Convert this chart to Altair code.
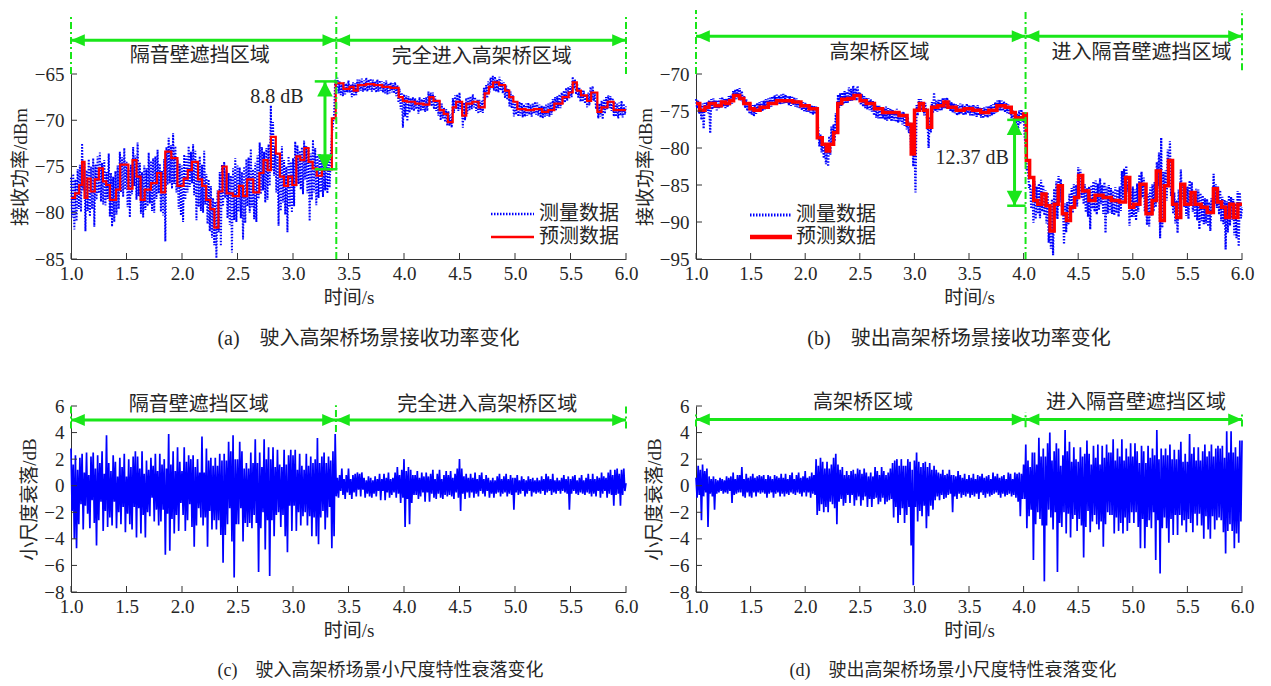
import altair as alt
import numpy as np
import pandas as pd

T0, T1 = 1.0, 6.0

X_TICKS = [1.0, 1.5, 2.0, 2.5, 3.0, 3.5, 4.0, 4.5, 5.0, 5.5, 6.0]
Y_TICKS_A = [-85, -80, -75, -70, -65]
Y_TICKS_B = [-95, -90, -85, -80, -75, -70]
Y_TICKS_CD = [-8, -6, -4, -2, 0, 2, 4, 6]

# (a) measured received power, dBm, sampled every 0.01 s from 1.0 s to 6.0 s
MEAS_A = [
    -76.2, -80.5, -75.8, -81.8, -76.4, -80.9, -75.3, -79.6, -74.8, -79.9,
    -72.5, -77.6, -74.6, -82.0, -75.4, -79.8, -74.2, -80.4, -75.0, -79.6,
    -74.1, -81.5, -74.8, -78.6, -73.9, -77.9, -73.5, -78.8, -74.6, -79.1,
    -74.3, -79.2, -75.6, -78.5, -73.6, -80.4, -75.7, -81.5, -76.1, -81.0,
    -75.5, -80.2, -74.9, -79.6, -73.4, -77.8, -74.0, -78.3, -73.0, -77.5,
    -74.5, -79.4, -75.3, -80.5, -74.8, -78.0, -72.9, -77.1, -73.8, -78.6,
    -72.4, -78.2, -74.6, -80.1, -75.6, -80.5, -74.9, -79.7, -75.2, -79.3,
    -73.5, -79.0, -74.4, -79.8, -74.1, -80.0, -73.9, -78.5, -73.2, -77.9,
    -74.7, -79.9, -75.5, -80.3, -74.2, -83.1, -72.9, -77.0, -71.9, -76.8,
    -72.7, -77.4, -71.4, -76.9, -72.8, -77.8, -74.3, -79.6, -74.7, -80.3,
    -74.9, -81.0, -73.7, -78.6, -73.9, -77.8, -72.8, -77.2, -73.4, -76.8,
    -72.6, -78.1, -73.3, -80.8, -74.5, -79.4, -73.9, -79.8, -74.8, -80.0,
    -73.3, -79.1, -75.8, -81.2, -76.4, -82.0, -77.1, -82.7, -78.4, -83.5,
    -78.8, -84.9, -77.6, -82.1, -75.6, -83.6, -74.8, -79.3, -74.5, -78.4,
    -75.4, -80.6, -75.7, -81.3, -76.0, -84.3, -75.2, -80.8, -74.1, -81.0,
    -74.9, -79.9, -75.1, -80.6, -75.6, -82.9, -75.0, -81.1, -74.2, -79.3,
    -74.0, -80.0, -73.1, -79.4, -75.3, -80.7, -74.6, -81.0, -73.8, -78.5,
    -72.4, -78.0, -72.9, -77.6, -73.4, -78.9, -73.0, -78.6, -72.6, -77.1,
    -68.4, -75.4, -70.2, -76.0, -72.8, -77.8, -73.5, -81.4, -74.0, -79.8,
    -72.8, -78.9, -74.3, -80.2, -75.0, -82.1, -73.9, -79.4, -74.5, -80.0,
    -74.1, -79.3, -72.3, -77.2, -72.7, -76.9, -73.3, -77.5, -72.9, -78.0,
    -72.2, -76.4, -72.8, -77.9, -73.0, -80.9, -73.6, -78.6, -72.1, -77.8,
    -73.0, -79.2, -73.8, -78.4, -73.6, -77.8, -74.2, -78.3, -73.9, -77.6,
    -73.8, -77.9, -74.2, -77.3, -73.7, -71.6, -70.4, -69.3, -65.6, -66.5,
    -65.4, -67.1, -65.8, -67.3, -66.0, -67.4, -65.9, -67.2, -66.0, -67.0,
    -65.7, -67.0, -66.1, -67.5, -65.9, -67.4, -66.0, -67.3, -65.6, -66.9,
    -65.6, -66.8, -65.5, -66.9, -65.7, -66.8, -65.4, -66.9, -65.6, -66.7,
    -65.5, -66.9, -65.6, -66.8, -65.8, -67.0, -65.6, -66.9, -65.7, -66.8,
    -65.8, -67.0, -65.9, -67.1, -65.7, -67.2, -66.0, -67.1, -65.9, -67.0,
    -66.0, -67.1, -65.9, -67.4, -66.2, -68.1, -66.6, -68.8, -67.0, -70.8,
    -67.2, -69.6, -67.3, -70.1, -67.4, -69.2, -67.6, -68.9, -67.5, -69.0,
    -67.6, -68.8, -67.8, -69.3, -67.5, -69.0, -67.7, -68.9, -67.6, -69.1,
    -67.5, -69.0, -66.9, -68.4, -67.0, -68.5, -67.0, -68.8, -67.4, -69.0,
    -67.8, -69.5, -67.9, -70.0, -68.2, -69.8, -68.6, -70.2, -68.8, -70.6,
    -69.0, -70.6, -69.4, -70.8, -67.6, -69.2, -67.3, -68.8, -67.2, -69.0,
    -67.0, -68.8, -68.0, -70.8, -68.1, -70.0, -67.6, -69.3, -67.5, -68.9,
    -67.4, -68.8, -67.2, -68.6, -67.5, -69.0, -67.8, -69.3, -67.8, -69.1,
    -67.9, -69.2, -66.5, -67.8, -66.2, -67.6, -65.8, -67.0, -65.4, -66.6,
    -65.2, -66.8, -65.3, -66.9, -65.6, -67.0, -65.3, -66.8, -65.7, -67.1,
    -65.9, -67.6, -66.2, -67.8, -66.6, -68.5, -66.9, -68.7, -67.3, -69.6,
    -68.0, -69.4, -68.2, -69.6, -68.0, -69.5, -68.1, -69.7, -68.3, -69.6,
    -68.2, -69.5, -68.1, -69.4, -68.3, -69.6, -68.2, -69.3, -68.0, -69.4,
    -68.1, -69.5, -68.3, -69.7, -68.4, -69.8, -68.5, -69.6, -68.3, -69.5,
    -68.2, -69.6, -68.1, -69.4, -67.7, -69.0, -67.5, -68.9, -67.4, -68.7,
    -67.2, -68.7, -67.0, -68.2, -66.8, -68.1, -66.5, -67.9, -66.4, -67.6,
    -66.3, -67.5, -65.3, -66.6, -65.6, -67.2, -66.0, -67.6, -66.5, -68.0,
    -66.7, -68.0, -66.8, -68.2, -67.2, -68.6, -67.0, -68.4, -66.4, -67.8,
    -66.3, -67.9, -67.0, -68.8, -68.0, -69.8, -68.2, -69.6, -67.9, -69.9,
    -67.8, -69.3, -67.5, -68.8, -67.3, -68.7, -67.4, -69.0, -67.6, -69.6,
    -68.0, -69.6, -68.2, -69.8, -68.1, -69.5, -67.9, -69.7, -68.2, -69.4,
    -68.5,
]

# (a) predicted received power, step changes (time s, dBm)
PRED_A = [
    (1.000, -78.4), (1.037, -77.9), (1.074, -77.0), (1.100, -74.5), (1.122, -78.4),
    (1.148, -76.3), (1.177, -77.7), (1.214, -76.4), (1.251, -75.2), (1.288, -76.6),
    (1.317, -77.0), (1.351, -78.6), (1.406, -77.5), (1.443, -74.8), (1.517, -77.4),
    (1.554, -74.3), (1.590, -76.1), (1.627, -78.6), (1.664, -77.5), (1.720, -76.8),
    (1.775, -75.7), (1.812, -77.8), (1.849, -73.4), (1.904, -74.1), (1.959, -77.1),
    (2.015, -76.3), (2.052, -75.4), (2.089, -74.5), (2.144, -76.4), (2.181, -77.1),
    (2.218, -78.6), (2.255, -79.6), (2.292, -81.6), (2.328, -77.7), (2.365, -75.0),
    (2.402, -77.9), (2.458, -78.2), (2.513, -77.1), (2.550, -78.2), (2.587, -76.4),
    (2.642, -77.8), (2.697, -75.7), (2.734, -74.3), (2.771, -75.4), (2.801, -71.8),
    (2.845, -73.6), (2.882, -76.1), (2.919, -77.1), (2.956, -76.1), (2.993, -77.0),
    (3.030, -73.9), (3.066, -74.3), (3.103, -73.0), (3.140, -74.5), (3.177, -75.2),
    (3.214, -76.0), (3.260, -75.3), (3.350, -69.8), (3.385, -66.0), (3.454, -66.6),
    (3.509, -66.4), (3.546, -66.8), (3.583, -66.2), (3.657, -66.1), (3.731, -66.2),
    (3.804, -66.4), (3.878, -66.5), (3.952, -67.5), (3.989, -67.9), (4.026, -68.0),
    (4.100, -68.2), (4.173, -68.3), (4.229, -67.5), (4.266, -67.9), (4.321, -68.9),
    (4.358, -69.3), (4.395, -70.2), (4.439, -68.6), (4.469, -68.0), (4.524, -69.5),
    (4.561, -68.2), (4.616, -68.0), (4.672, -68.6), (4.727, -67.1), (4.764, -66.4),
    (4.801, -65.9), (4.856, -66.2), (4.911, -66.8), (4.948, -67.5), (4.985, -68.0),
    (5.022, -68.8), (5.096, -68.9), (5.170, -68.8), (5.244, -69.1), (5.299, -68.9),
    (5.354, -68.2), (5.428, -67.5), (5.483, -67.0), (5.520, -65.9), (5.557, -66.8),
    (5.594, -67.3), (5.649, -67.9), (5.686, -67.0), (5.742, -69.1), (5.779, -68.6),
    (5.834, -68.0), (5.889, -68.9), (6.000, -68.9),
]

# (b) measured received power, dBm, sampled every 0.01 s from 1.0 s to 6.0 s
MEAS_B = [
    -73.4, -74.6, -73.6, -75.4, -74.2, -76.2, -74.0, -77.4, -73.9, -75.1,
    -73.8, -75.3, -73.5, -78.0, -73.4, -74.8, -73.3, -74.6, -73.6, -74.9,
    -73.5, -74.7, -73.3, -74.5, -73.1, -74.4, -73.4, -74.6, -73.3, -74.5,
    -73.0, -74.2, -72.9, -74.0, -72.3, -73.5, -72.1, -73.4, -72.0, -73.3,
    -71.9, -73.6, -72.3, -74.0, -72.9, -74.6, -73.4, -75.0, -73.8, -75.4,
    -74.0, -75.5, -74.2, -75.7, -74.1, -75.4, -73.9, -75.1, -73.8, -75.0,
    -73.7, -75.0, -73.6, -74.8, -73.4, -74.7, -73.3, -74.5, -73.2, -74.4,
    -73.0, -74.2, -72.9, -74.1, -72.8, -74.0, -72.9, -74.1, -72.8, -74.0,
    -72.7, -74.0, -72.8, -73.9, -72.9, -74.2, -73.0, -74.3, -73.1, -74.2,
    -73.2, -74.4, -73.3, -74.5, -73.5, -74.6, -73.7, -74.9, -73.8, -75.0,
    -73.9, -75.1, -74.0, -75.2, -74.1, -75.4, -74.2, -75.5, -74.3, -75.4,
    -74.4, -75.6, -77.4, -79.8, -78.2, -80.6, -78.7, -81.4, -79.3, -82.2,
    -79.6, -82.5, -78.4, -80.9, -77.1, -79.7, -76.8, -79.1, -75.3, -77.6,
    -72.8, -74.6, -72.6, -74.3, -72.5, -74.1, -72.3, -73.9, -72.4, -74.0,
    -71.8, -73.7, -72.0, -73.6, -71.6, -73.5, -71.9, -73.6, -71.6, -73.4,
    -72.5, -74.2, -72.7, -74.4, -73.0, -74.6, -73.2, -74.8, -73.3, -74.9,
    -73.4, -75.1, -73.6, -75.6, -74.0, -75.9, -74.2, -76.0, -74.3, -76.1,
    -74.5, -76.0, -74.6, -76.2, -74.4, -76.3, -74.6, -76.1, -74.7, -76.4,
    -74.8, -76.3, -74.9, -76.5, -74.7, -76.6, -75.0, -76.4, -75.2, -76.8,
    -75.1, -77.0, -75.4, -77.5, -75.8, -78.0, -76.5, -80.5, -78.2, -82.5,
    -78.5, -86.0, -74.2, -75.6, -73.4, -75.2, -73.4, -74.9, -73.8, -75.6,
    -73.9, -75.5, -76.5, -80.0, -75.8, -77.9, -73.8, -75.3, -72.5, -75.0,
    -73.6, -75.1, -73.5, -75.0, -73.4, -74.9, -73.2, -74.6, -73.3, -74.7,
    -73.2, -74.7, -73.6, -75.0, -73.8, -75.2, -74.0, -75.3, -74.1, -75.6,
    -74.2, -75.5, -74.0, -75.4, -74.1, -75.6, -74.3, -75.5, -74.0, -75.3,
    -74.2, -75.6, -74.3, -75.7, -74.1, -75.6, -74.3, -75.8, -74.2, -75.6,
    -74.5, -75.9, -74.6, -76.0, -74.5, -75.8, -74.4, -75.9, -74.3, -75.7,
    -74.2, -75.6, -74.1, -75.5, -73.8, -75.2, -73.6, -75.0, -73.5, -74.9,
    -73.6, -75.0, -73.7, -75.2, -73.9, -75.3, -74.1, -75.5, -74.6, -76.0,
    -74.9, -76.3, -75.1, -76.6, -75.3, -77.6, -74.9, -76.8, -74.8, -76.5,
    -75.2, -78.5, -80.0, -83.1, -82.5, -85.4, -84.9, -88.2, -85.6, -90.1,
    -84.5, -89.6, -85.2, -88.9, -84.8, -89.5, -84.3, -88.6, -85.0, -89.1,
    -85.7, -90.2, -86.0, -92.8, -88.2, -93.6, -86.9, -94.5, -85.5, -89.4,
    -84.5, -89.6, -83.8, -87.3, -84.2, -88.0, -86.9, -93.0, -87.5, -91.4,
    -87.3, -90.4, -86.2, -89.7, -85.4, -88.8, -84.9, -88.1, -85.0, -87.9,
    -82.6, -85.4, -82.9, -86.8, -84.2, -87.6, -84.9, -88.7, -85.4, -89.3,
    -85.2, -91.0, -85.0, -88.2, -84.5, -88.6, -84.4, -89.0, -84.8, -88.4,
    -84.1, -87.6, -85.0, -88.9, -84.6, -91.5, -85.2, -88.9, -85.0, -88.7,
    -85.4, -88.9, -85.8, -89.1, -85.3, -88.8, -85.6, -89.3, -85.2, -88.5,
    -83.1, -87.0, -82.8, -86.5, -82.4, -85.9, -84.8, -90.5, -85.6, -89.4,
    -85.2, -89.3, -85.6, -89.8, -84.8, -88.6, -83.6, -86.9, -83.2, -86.7,
    -84.0, -88.6, -85.8, -90.4, -86.2, -90.6, -85.3, -89.2, -84.9, -88.6,
    -84.6, -88.0, -81.9, -85.2, -80.6, -92.2, -78.6, -90.8, -83.2, -87.5,
    -83.0, -87.1, -80.2, -84.5, -79.1, -86.5, -84.8, -88.9, -86.0, -90.2,
    -87.1, -91.5, -85.6, -88.3, -82.9, -86.9, -84.7, -88.0, -85.3, -89.2,
    -85.2, -89.6, -84.4, -87.7, -84.6, -88.6, -85.9, -89.4, -85.5, -89.8,
    -85.6, -91.0, -86.1, -89.9, -86.4, -90.3, -86.8, -90.2, -86.9, -90.6,
    -87.3, -91.2, -86.8, -89.0, -83.5, -87.6, -84.9, -88.1, -85.2, -89.0,
    -85.7, -89.9, -86.6, -90.3, -87.0, -93.7, -87.2, -91.4, -86.4, -90.5,
    -86.6, -89.7, -86.9, -91.8, -87.5, -92.2, -85.8, -93.3, -86.0, -89.5,
    -88.0,
]

# (b) predicted received power, step changes (time s, dBm)
PRED_B = [
    (1.000, -74.0), (1.034, -74.9), (1.082, -74.5), (1.120, -74.0), (1.176, -74.3),
    (1.232, -73.8), (1.269, -74.0), (1.307, -73.6), (1.344, -72.9), (1.400, -73.3),
    (1.438, -74.0), (1.494, -74.7), (1.531, -74.9), (1.587, -74.5), (1.662, -74.0),
    (1.737, -73.6), (1.812, -73.6), (1.886, -73.8), (1.961, -74.3), (2.036, -74.7),
    (2.111, -78.6), (2.156, -79.5), (2.193, -80.4), (2.223, -79.5), (2.260, -77.9),
    (2.298, -74.0), (2.335, -73.4), (2.391, -73.3), (2.447, -72.9), (2.503, -73.6),
    (2.559, -74.0), (2.634, -74.7), (2.709, -75.2), (2.784, -75.2), (2.859, -75.6),
    (2.933, -76.8), (2.971, -80.8), (3.001, -74.9), (3.046, -74.0), (3.083, -74.9),
    (3.120, -77.2), (3.158, -74.5), (3.214, -74.3), (3.270, -73.8), (3.307, -74.5),
    (3.382, -74.9), (3.457, -74.7), (3.532, -74.9), (3.607, -75.2), (3.681, -74.9),
    (3.756, -74.3), (3.831, -74.5), (3.887, -75.2), (3.924, -75.9), (3.999, -75.4),
    (4.025, -81.7), (4.055, -84.0), (4.093, -87.1), (4.130, -87.6), (4.168, -86.2),
    (4.205, -87.8), (4.242, -91.2), (4.280, -87.6), (4.317, -85.1), (4.355, -88.9),
    (4.392, -89.8), (4.429, -88.0), (4.467, -86.7), (4.504, -83.7), (4.541, -85.8),
    (4.598, -87.1), (4.654, -86.4), (4.728, -86.7), (4.803, -87.1), (4.878, -87.3),
    (4.934, -84.0), (4.972, -88.0), (5.009, -87.6), (5.065, -84.9), (5.121, -88.9),
    (5.177, -87.1), (5.215, -83.1), (5.252, -89.8), (5.289, -85.1), (5.327, -81.7),
    (5.364, -87.6), (5.402, -89.4), (5.439, -84.9), (5.476, -87.6), (5.533, -86.0),
    (5.570, -87.6), (5.626, -88.0), (5.682, -88.7), (5.738, -85.5), (5.775, -87.3),
    (5.813, -88.0), (5.850, -89.4), (5.887, -87.6), (5.925, -89.4), (5.962, -87.6),
    (6.000, -87.6),
]

# (c) small-scale fading, dB, sampled every 0.01 s from 1.0 s to 6.0 s
FADE_C = [
    2.8, -1.9, 1.6, -4.0, 2.3, -4.7, 1.2, -2.9, 2.1, -1.4,
    2.4, -3.3, 1.0, -1.5, 2.5, -2.1, 0.8, -3.2, 2.2, -1.1,
    2.5, -2.8, 1.3, -4.5, 2.3, -2.6, 1.7, -1.2, 2.6, -3.4,
    0.9, -1.9, 3.8, -3.1, 1.7, -2.4, 1.1, -3.0, 2.3, -1.2,
    1.8, -3.2, 0.7, -2.0, 2.1, -2.9, 1.4, -1.6, 2.4, -3.5,
    0.7, -2.1, 2.0, -2.9, 1.4, -3.3, 2.2, -1.6, 2.6, -3.9,
    2.2, -1.7, 1.3, -3.6, 2.6, -2.2, 0.9, -3.9, 1.9, -2.0,
    1.2, -2.3, 2.1, -0.9, 1.5, -2.7, 2.4, -1.8, 1.1, -3.0,
    2.4, -2.7, 1.6, -1.8, 2.0, -5.2, 1.3, -2.1, 3.9, -4.9,
    1.6, -2.5, 2.6, -3.6, 1.1, -2.2, 2.9, -3.4, 1.8, -1.3,
    1.1, -2.2, 2.9, -3.4, 1.8, -2.6, 2.3, -1.4, 2.0, -3.1,
    2.3, -4.6, 1.4, -3.0, 2.0, -1.7, 1.0, -2.4, 3.7, -3.0,
    1.0, -2.4, 2.8, -4.6, 1.9, -1.9, 2.1, -3.3, 1.5, -2.6,
    2.1, -3.3, 1.5, -2.6, 2.4, -3.7, 1.9, -5.8, 2.4, -3.7,
    1.9, -2.9, 3.3, -1.7, 2.6, -4.2, 3.8, -6.9, 2.0, -2.9,
    2.0, -2.9, 3.3, -1.7, 2.6, -4.2, 1.3, -2.8, 1.7, -3.1,
    1.3, -2.8, 2.5, -3.2, 1.7, -2.2, 3.5, -2.8, 1.7, -6.5,
    2.5, -3.2, 1.4, -2.0, 3.5, -4.8, 2.0, -2.6, 2.9, -6.8,
    2.0, -2.6, 2.9, -3.8, 1.4, -2.2, 2.7, -2.0, 1.6, -3.1,
    1.4, -2.2, 2.7, -3.8, 1.6, -5.0, 2.3, -1.5, 2.7, -3.4,
    2.3, -1.5, 2.7, -3.4, 1.2, -2.0, 2.4, -3.0, 1.5, -2.3,
    1.2, -2.0, 2.4, -3.0, 1.5, -2.3, 2.2, -3.8, 1.7, -2.4,
    2.0, -3.8, 3.6, -4.4, 1.7, -2.4, 2.2, -1.9, 2.5, -3.3,
    1.7, -2.4, 2.2, -1.6, 1.9, -4.7, 2.6, -3.8, 3.9, -0.8,
    0.6, -0.9, 0.8, -0.4, 1.3, -0.7, 0.5, -1.0, 0.8, -0.5,
    1.3, -0.7, 0.5, -1.0, 0.8, -0.5, 0.9, -0.8, 1.0, -0.3,
    0.9, -0.8, 1.0, -0.3, 0.6, -0.9, 0.4, -0.6, 0.7, -0.8,
    0.6, -0.9, 0.4, -0.6, 0.7, -0.8, 0.5, -0.4, 0.9, -1.1,
    0.5, -0.4, 0.9, -1.1, 0.6, -0.5, 1.0, -0.9, 0.5, -0.7,
    0.6, -0.5, 1.0, -0.9, 1.4, -0.6, 0.8, -1.3, 1.2, -0.9,
    2.0, -3.1, 1.1, -1.0, 1.4, -2.9, 1.2, -1.3, 0.8, -0.7,
    0.8, -0.7, 1.1, -1.0, 0.6, -0.8, 1.0, -0.5, 0.7, -1.2,
    1.0, -0.5, 0.7, -1.2, 0.9, -0.6, 1.2, -0.9, 0.5, -1.0,
    0.9, -0.6, 1.2, -0.9, 0.5, -1.0, 0.8, -0.7, 1.1, -0.8,
    0.8, -0.7, 1.1, -0.8, 0.6, -1.0, 0.9, -0.5, 1.3, -0.9,
    2.0, -1.9, 1.3, -0.6, 0.7, -1.0, 0.9, -0.5, 0.6, -0.9,
    0.9, -0.5, 0.6, -0.9, 1.0, -0.6, 0.5, -0.8, 0.8, -0.4,
    1.0, -0.6, 0.5, -0.8, 0.8, -0.4, 0.6, -0.9, 0.4, -0.6,
    0.6, -0.9, 0.4, -0.6, 0.7, -0.5, 0.9, -0.8, 0.5, -0.6,
    0.7, -0.5, 0.9, -0.8, 0.5, -0.6, 0.8, -0.7, 0.6, -1.8,
    0.6, -0.5, 0.8, -0.7, 0.4, -0.6, 0.7, -0.4, 0.5, -0.8,
    0.4, -0.6, 0.7, -0.4, 0.5, -0.8, 0.6, -0.5, 0.4, -0.6,
    0.6, -0.5, 0.4, -0.6, 0.7, -0.4, 0.5, -0.7, 0.9, -0.5,
    0.7, -0.4, 0.5, -0.7, 0.9, -0.5, 0.4, -0.6, 0.6, -0.4,
    0.4, -0.6, 0.6, -0.4, 0.8, -0.5, 0.5, -0.6, 0.7, -1.8,
    0.5, -0.6, 0.7, -0.4, 0.8, -0.6, 0.4, -0.7, 0.6, -0.5,
    0.8, -0.6, 0.4, -0.7, 0.6, -0.5, 0.9, -0.6, 0.5, -0.8,
    0.9, -0.6, 0.5, -0.8, 0.7, -0.4, 0.6, -0.9, 1.0, -0.6,
    0.7, -0.4, 0.6, -0.9, 1.0, -0.6, 1.2, -0.7, 0.8, -1.5,
    1.2, -0.7, 1.3, -0.6, 0.9, -1.5, 1.2, -0.7, 1.3, -0.4,
    0.2,
]

# (d) small-scale fading, dB, sampled every 0.01 s from 1.0 s to 6.0 s
FADE_D = [
    0.6, -0.9, 1.5, -0.7, 1.2, -2.6, 1.6, -0.8, 1.1, -0.5,
    1.3, -3.1, 0.7, -0.6, 0.5, -0.8, 0.7, -1.8, 0.5, -0.6,
    0.4, -0.5, 0.6, -0.4, 0.5, -0.6, 0.4, -0.5, 0.7, -0.6,
    0.6, -0.4, 0.7, -1.3, 1.0, -0.7, 0.5, -0.6, 0.8, -0.5,
    0.8, -0.5, 1.4, -0.8, 0.5, -0.9, 0.9, -0.5, 0.6, -0.8,
    0.7, -0.9, 0.9, -0.5, 0.6, -0.8, 0.7, -0.5, 0.8, -0.6,
    0.7, -0.5, 0.8, -0.6, 0.5, -0.9, 0.8, -0.6, 0.7, -0.5,
    0.5, -0.9, 0.8, -0.6, 0.7, -0.5, 0.6, -0.8, 0.9, -0.6,
    0.6, -0.8, 0.9, -0.6, 0.5, -0.7, 0.8, -0.5, 1.0, -0.6,
    0.5, -0.7, 0.8, -0.5, 1.0, -0.6, 0.6, -0.8, 0.7, -0.5,
    1.1, -0.8, 0.6, -0.5, 0.7, -0.9, 1.0, -0.6, 0.8, -0.7,
    2.0, -2.2, 1.5, -1.9, 2.1, -1.4, 1.8, -2.0, 1.3, -1.6,
    1.8, -2.0, 1.3, -1.2, 1.6, -1.4, 2.1, -1.7, 2.4, -2.9,
    1.6, -1.2, 1.2, -1.0, 1.4, -1.5, 0.8, -1.3, 1.1, -0.7,
    0.8, -1.3, 1.1, -0.7, 1.2, -1.5, 0.9, -1.1, 1.3, -0.8,
    1.2, -1.5, 0.9, -1.1, 1.3, -0.8, 1.0, -1.6, 0.7, -1.0,
    1.0, -1.6, 0.7, -1.0, 1.4, -0.9, 1.1, -1.4, 0.8, -1.2,
    1.4, -0.9, 1.1, -1.4, 0.8, -1.2, 1.0, -1.1, 1.3, -1.0,
    1.7, -2.4, 1.9, -1.6, 2.0, -2.8, 1.5, -2.2, 2.0, -1.7,
    1.5, -2.8, 1.5, -2.2, 2.0, -1.6, 1.8, -4.5, 1.2, -7.5,
    1.9, -1.6, 2.5, -2.7, 1.8, -1.9, 1.4, -2.3, 1.7, -1.5,
    1.8, -3.2, 1.4, -2.3, 1.7, -1.5, 1.2, -1.8, 1.5, -1.1,
    1.2, -0.8, 1.0, -1.1, 0.9, -0.7, 1.2, -1.0, 0.8, -0.9,
    0.9, -0.7, 1.2, -0.6, 0.8, -2.0, 0.8, -0.8, 0.7, -1.0,
    1.1, -0.6, 0.8, -0.9, 0.6, -0.7, 0.9, -0.8, 0.5, -0.6,
    0.8, -0.9, 0.6, -0.7, 0.9, -0.8, 0.5, -0.6, 0.8, -1.0,
    0.7, -0.5, 0.9, -0.7, 0.6, -0.9, 0.7, -0.6, 0.8, -0.8,
    0.5, -0.7, 1.0, -0.6, 0.7, -0.5, 0.9, -0.7, 0.6, -0.9,
    0.7, -0.6, 0.8, -0.8, 0.5, -0.7, 1.0, -0.6, 0.9, -0.8,
    0.5, -0.7, 1.0, -0.9, 0.9, -1.2, 1.0, -2.3, 0.9, -1.0,
    1.6, -1.0, 3.1, -3.2, 1.9, -2.3, 1.4, -1.8, 2.5, -5.6,
    2.5, -2.9, 1.6, -2.0, 3.6, -2.5, 2.2, -3.0, 2.8, -7.2,
    2.2, -3.0, 3.2, -1.8, 4.0, -2.4, 1.9, -3.3, 2.6, -2.0,
    3.2, -6.5, 2.8, -2.8, 1.5, -3.1, 2.3, -2.0, 4.2, -3.6,
    2.6, -2.1, 3.3, -3.9, 1.8, -2.5, 2.9, -2.2, 2.0, -3.4,
    1.8, -2.5, 2.9, -3.0, 2.2, -5.4, 2.4, -3.1, 3.4, -1.9,
    2.4, -3.5, 1.6, -2.7, 3.0, -2.2, 2.1, -2.9, 3.1, -3.3,
    1.6, -2.7, 3.0, -4.6, 2.1, -2.9, 3.1, -2.0, 2.5, -2.2,
    2.5, -2.2, 3.5, -3.6, 1.9, -2.4, 2.8, -3.4, 2.2, -2.8,
    3.5, -3.6, 1.9, -2.4, 2.8, -3.4, 2.2, -2.8, 3.2, -2.0,
    2.2, -2.8, 3.2, -2.0, 2.6, -3.1, 1.7, -4.7, 3.0, -2.5,
    2.6, -4.7, 1.7, -3.1, 3.0, -2.6, 2.1, -3.2, 2.8, -2.0,
    2.3, -5.6, 4.2, -2.6, 2.0, -6.6, 2.8, -3.2, 2.3, -2.4,
    2.8, -3.2, 2.3, -4.3, 3.1, -2.5, 2.0, -3.7, 2.7, -2.2,
    2.0, -3.7, 2.7, -2.2, 3.3, -3.0, 1.8, -2.6, 2.4, -3.5,
    1.8, -2.5, 3.9, -2.8, 2.4, -3.5, 2.9, -2.1, 1.9, -3.0,
    2.9, -2.1, 1.9, -3.0, 2.6, -4.0, 3.1, -2.3, 2.2, -3.3,
    2.6, -4.0, 3.1, -2.3, 2.2, -3.3, 2.8, -2.6, 3.0, -2.4,
    2.8, -2.6, 3.0, -3.5, 2.1, -5.1, 4.1, -3.4, 2.5, -2.9,
    4.1, -3.4, 2.5, -4.7, 2.9, -3.6, 2.2, -4.3, 3.4, -2.7,
    3.4,
]

LEGEND_LABELS = ["测量数据", "预测数据"]

# ---------------------------------------------------------------- styling
BLUE = "#0000FF"
RED = "#FF0000"
GREEN = "#19E619"
INK = "#262626"
AXIS = "#333333"
NUM_FONT = "Liberation Serif"
CJK_FONT = "Noto Sans CJK SC"
MIX_FONT = "Liberation Serif, Noto Sans CJK SC"

LEFT_HEAD = "M0,0 L2.3,-1 L2.3,1 Z"
RIGHT_HEAD = "M0,0 L-2.3,-1 L-2.3,1 Z"
UP_HEAD = "M0,0 L-1.3,2.5 L1.3,2.5 Z"
DOWN_HEAD = "M0,0 L-1.3,-2.5 L1.3,-2.5 Z"
HEAD_SIZE = 144


def sampled(values):
    n = len(values)
    return pd.DataFrame({"t": np.linspace(T0, T1, n), "v": values})


def steps(pairs):
    return pd.DataFrame(pairs, columns=["t", "v"])


PANELS = [
    dict(
        key="a", width=555, height=185, ydomain=[-85, -65], yticks=Y_TICKS_A,
        ytitle="接收功率/dBm", meas=sampled(MEAS_A), pred=steps(PRED_A),
        meas_dash=[1.5, 1.5], meas_w=2.0, red_w=2.2,
        caption="(a)\u3000驶入高架桥场景接收功率变化", cap_dx=20, cap_size=20,
        vlines=[(1.0, -65.0, -58.75), (3.39, -85.0, -58.75), (6.0, -65.0, -58.75)],
        arrows=[(1.0, 3.39, -61.36), (3.39, 6.0, -61.36)],
        labels=[(2.16, -63.1, "隔音壁遮挡区域"), (4.70, -63.2, "完全进入高架桥区域")],
        gap=dict(x=3.288, x1=3.196, x2=3.40, top=-65.8, bottom=-75.3,
                 tx=2.856, ty=-67.5, text="8.8 dB"),
        legend=dict(x0=420, x1=463, xt=468, y1=140, y2=163, w_blue=2.5, w_red=2.5),
    ),
    dict(
        key="b", width=546, height=185, ydomain=[-95, -70], yticks=Y_TICKS_B,
        ytitle="接收功率/dBm", meas=sampled(MEAS_B), pred=steps(PRED_B),
        meas_dash=[1.5, 1.5], meas_w=2.2, red_w=3.5,
        caption="(b)\u3000驶出高架桥场景接收功率变化", cap_dx=-10, cap_size=20,
        vlines=[(1.0, -70.0, -61.35), (4.018, -95.0, -61.35), (6.0, -69.5, -61.35)],
        arrows=[(1.0, 4.018, -64.9), (4.018, 6.0, -64.9)],
        labels=[(2.68, -67.2, "高架桥区域"), (5.08, -67.2, "进入隔音壁遮挡区域")],
        gap=dict(x=3.917, x1=3.85, x2=4.018, top=-76.2, bottom=-87.8,
                 tx=3.53, ty=-81.35, text="12.37 dB"),
        legend=dict(x0=54, x1=96, xt=100, y1=141, y2=163, w_blue=3, w_red=4.5),
    ),
    dict(
        key="c", width=555, height=186, ydomain=[-8, 6], yticks=Y_TICKS_CD,
        ytitle="小尺度衰落/dB", meas=sampled(FADE_C), pred=None,
        meas_dash=None, meas_w=1.7, red_w=None,
        caption="(c)\u3000驶入高架桥场景小尺度特性衰落变化", cap_dx=32, cap_size=18,
        vlines=[(1.0, 4.3, 6.05), (3.387, 4.05, 6.05), (6.0, 4.3, 6.05)],
        arrows=[(1.0, 3.387, 4.94), (3.387, 6.0, 4.94)],
        labels=[(2.15, 6.08, "隔音壁遮挡区域"), (4.75, 6.08, "完全进入高架桥区域")],
        gap=None, legend=None,
    ),
    dict(
        key="d", width=546, height=186, ydomain=[-8, 6], yticks=Y_TICKS_CD,
        ytitle="小尺度衰落/dB", meas=sampled(FADE_D), pred=None,
        meas_dash=None, meas_w=1.7, red_w=None,
        caption="(d)\u3000驶出高架桥场景小尺度特性衰落变化", cap_dx=-16, cap_size=18,
        vlines=[(1.0, 4.45, 5.5), (4.018, 4.4, 5.55), (6.0, 4.45, 5.55)],
        arrows=[(1.0, 4.018, 4.99), (4.018, 6.0, 4.99)],
        labels=[(2.53, 6.2, "高架桥区域"), (5.03, 6.2, "进入隔音壁遮挡区域")],
        gap=None, legend=None,
    ),
]


def make_panel(p):
    W, H = p["width"], p["height"]
    xs = alt.Scale(domain=[T0, T1], nice=False, zero=False)
    ys = alt.Scale(domain=p["ydomain"], nice=False, zero=False)
    xaxis = alt.Axis(
        values=X_TICKS, format=".1f", title="时间/s", ticks=False, grid=False,
        labelFlush=False, labelOverlap=False, labelPadding=5, titlePadding=5,
        labelFont=NUM_FONT, labelFontSize=19, labelColor=INK,
        titleFont=MIX_FONT, titleFontSize=19, titleFontWeight="normal", titleColor=INK,
        domainColor=AXIS, domainWidth=1,
    )
    yaxis = alt.Axis(
        values=p["yticks"], format="d", title=p["ytitle"], ticks=False, grid=False,
        labelFlush=False, labelOverlap=False, labelPadding=7, titlePadding=4,
        labelFont=NUM_FONT, labelFontSize=19, labelColor=INK,
        titleFont=MIX_FONT, titleFontSize=19, titleFontWeight="normal", titleColor=INK,
        domainColor=AXIS, domainWidth=1,
    )

    def X(f):
        return alt.X(f, type="quantitative", scale=xs, axis=xaxis, title="时间/s")

    def Y(f):
        return alt.Y(f, type="quantitative", scale=ys, axis=yaxis, title=p["ytitle"])

    layers = []
    meas_kw = dict(color=BLUE, strokeWidth=p["meas_w"])
    if p["meas_dash"]:
        meas_kw["strokeDash"] = p["meas_dash"]
    layers.append(
        alt.Chart(p["meas"]).mark_line(**meas_kw).encode(x=X("t"), y=Y("v"))
    )
    if p["pred"] is not None:
        layers.append(
            alt.Chart(p["pred"]).mark_line(
                color=RED, strokeWidth=p["red_w"], interpolate="step-after"
            ).encode(x=X("t"), y=Y("v"))
        )

    # inward tick marks
    layers.append(
        alt.Chart(pd.DataFrame({"tick": X_TICKS})).mark_rule(color=AXIS, strokeWidth=1).encode(
            x=X("tick"), y=alt.value(H), y2=alt.value(H - 6)
        )
    )
    layers.append(
        alt.Chart(pd.DataFrame({"tick": p["yticks"]})).mark_rule(color=AXIS, strokeWidth=1).encode(
            y=Y("tick"), x=alt.value(0), x2=alt.value(6)
        )
    )

    # region markers
    vl = pd.DataFrame(p["vlines"], columns=["x", "y1", "y2"])
    layers.append(
        alt.Chart(vl).mark_rule(color=GREEN, strokeWidth=2, strokeDash=[7, 3, 2, 3]).encode(
            x=X("x"), y=Y("y1"), y2="y2"
        )
    )
    ar = pd.DataFrame(p["arrows"], columns=["x1", "x2", "y"])
    layers.append(
        alt.Chart(ar).mark_rule(color=GREEN, strokeWidth=3).encode(x=X("x1"), x2="x2", y=Y("y"))
    )
    layers.append(
        alt.Chart(ar).mark_point(shape=LEFT_HEAD, size=HEAD_SIZE, filled=True, color=GREEN, opacity=1).encode(
            x=X("x1"), y=Y("y")
        )
    )
    layers.append(
        alt.Chart(ar).mark_point(shape=RIGHT_HEAD, size=HEAD_SIZE, filled=True, color=GREEN, opacity=1).encode(
            x=X("x2"), y=Y("y")
        )
    )
    lb = pd.DataFrame(p["labels"], columns=["x", "y", "text"])
    layers.append(
        alt.Chart(lb).mark_text(font=CJK_FONT, fontSize=20, color=INK, align="center", baseline="middle").encode(
            x=X("x"), y=Y("y"), text="text:N"
        )
    )

    g = p["gap"]
    if g:
        bars = pd.DataFrame({"x1": [g["x1"], g["x1"]], "x2": [g["x2"], g["x2"]], "y": [g["top"], g["bottom"]]})
        layers.append(
            alt.Chart(bars).mark_rule(color=GREEN, strokeWidth=2.5).encode(x=X("x1"), x2="x2", y=Y("y"))
        )
        vert = pd.DataFrame({"x": [g["x"]], "top": [g["top"]], "bottom": [g["bottom"]]})
        layers.append(
            alt.Chart(vert).mark_rule(color=GREEN, strokeWidth=3).encode(x=X("x"), y=Y("top"), y2="bottom")
        )
        layers.append(
            alt.Chart(vert).mark_point(shape=UP_HEAD, size=HEAD_SIZE, filled=True, color=GREEN, opacity=1).encode(
                x=X("x"), y=Y("top")
            )
        )
        layers.append(
            alt.Chart(vert).mark_point(shape=DOWN_HEAD, size=HEAD_SIZE, filled=True, color=GREEN, opacity=1).encode(
                x=X("x"), y=Y("bottom")
            )
        )
        gt = pd.DataFrame({"x": [g["tx"]], "y": [g["ty"]], "text": [g["text"]]})
        layers.append(
            alt.Chart(gt).mark_text(font=NUM_FONT, fontSize=20, color=INK, align="center", baseline="middle").encode(
                x=X("x"), y=Y("y"), text="text:N"
            )
        )

    lg = p["legend"]
    if lg:
        one = pd.DataFrame({"k": [0]})
        layers.append(
            alt.Chart(one).mark_rule(color=BLUE, strokeWidth=lg["w_blue"], strokeDash=[1.5, 1.5]).encode(
                x=alt.value(lg["x0"]), x2=alt.value(lg["x1"]), y=alt.value(lg["y1"])
            )
        )
        layers.append(
            alt.Chart(one).mark_rule(color=RED, strokeWidth=lg["w_red"]).encode(
                x=alt.value(lg["x0"]), x2=alt.value(lg["x1"]), y=alt.value(lg["y2"])
            )
        )
        for yy, txt in zip([lg["y1"], lg["y2"]], LEGEND_LABELS):
            layers.append(
                alt.Chart(one).mark_text(
                    font=CJK_FONT, fontSize=20, color=INK, align="left", baseline="middle", text=txt
                ).encode(x=alt.value(lg["xt"]), y=alt.value(yy))
            )

    return alt.layer(*layers).properties(
        width=W,
        height=H,
        title=alt.TitleParams(
            text=p["caption"], orient="bottom", anchor="middle", frame="group",
            offset=22, dx=p["cap_dx"], font=MIX_FONT, fontSize=p["cap_size"],
            fontWeight="normal", color=INK,
        ),
    )


charts = [make_panel(p) for p in PANELS]

chart = alt.concat(
    *charts, columns=2, spacing={"row": 147, "column": 70}, bounds="flush"
).properties(
    padding={"left": 3, "top": 0, "right": 5, "bottom": 5}
).configure_view(stroke=None)

chart.save("out.html", embed_options={"renderer": "svg", "actions": False})
